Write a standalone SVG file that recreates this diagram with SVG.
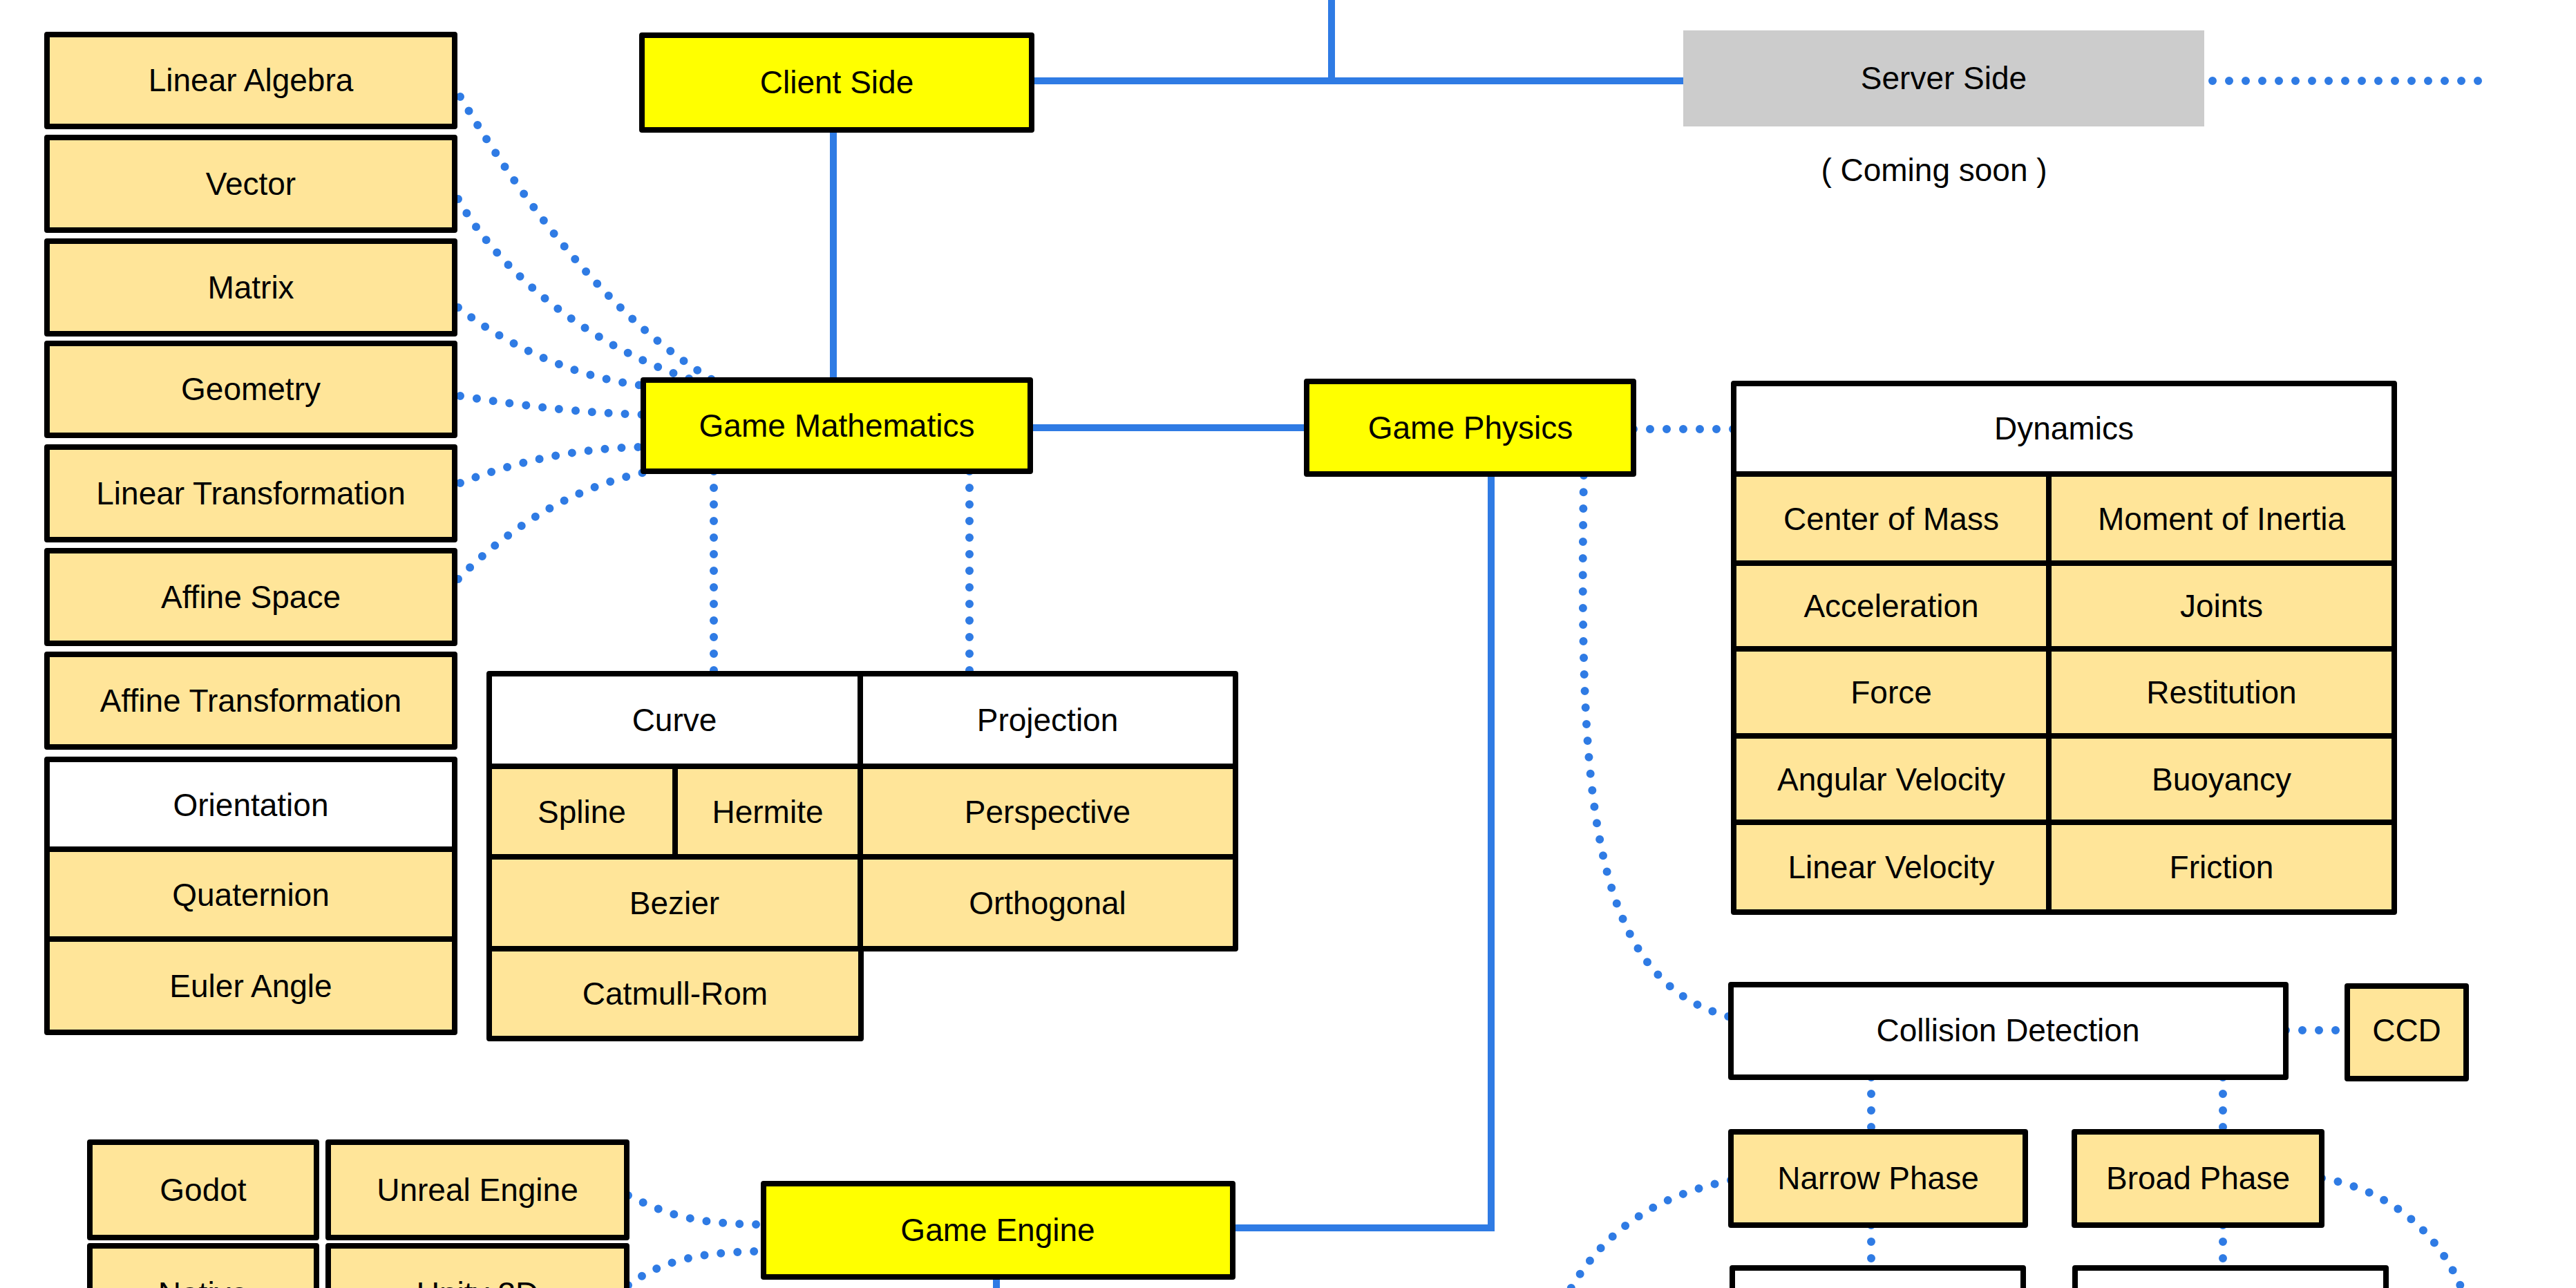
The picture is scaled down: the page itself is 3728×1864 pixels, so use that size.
<svg xmlns="http://www.w3.org/2000/svg" width="3728" height="1864" viewBox="0 0 3728 1864">
<style>
.b{stroke:#000;stroke-width:8;stroke-linejoin:round}
.p{fill:#ffe599}
.y{fill:#ffff00}
.w{fill:#ffffff}
.g{fill:#cccccc;stroke:none}
text{font-family:"Liberation Sans",Arial,sans-serif;font-size:46px;text-anchor:middle;dominant-baseline:central;fill:#000}
.s{fill:none;stroke:#2f7be4;stroke-width:10}
.d{fill:none;stroke:#2f7be4;stroke-width:12;stroke-linecap:round;stroke-dasharray:0 24}
</style>
<rect width="3728" height="1864" fill="#ffffff"/>
<g id="connectors">
<path class="s" d="M1927,0 V117"/>
<path class="s" d="M1493,117 H2436"/>
<path class="s" d="M1206,188 V550"/>
<path class="s" d="M1491,619 H1891"/>
<path class="s" d="M2158,686 V1777 H1784"/>
<path class="s" d="M1442,1848 V1864"/>
<path class="d" d="M3202,117 H3608"/>
<path class="d" d="M666,140 C780,330 900,470 1030,549"/>
<path class="d" d="M663,288 C720,390 850,500 1000,549"/>
<path class="d" d="M663,445 C720,490 820,545 931,558"/>
<path class="d" d="M666,573 C760,588 850,598 931,600"/>
<path class="d" d="M666,699 C740,670 830,648 931,647"/>
<path class="d" d="M663,838 C720,780 810,710 931,684"/>
<path class="d" d="M1033,682 V975"/>
<path class="d" d="M1403,682 V975"/>
<path class="d" d="M2364,621 H2509"/>
<path class="d" d="M2292,688 C2285,1150 2300,1420 2505,1472"/>
<path class="d" d="M3308,1491 H3397"/>
<path class="d" d="M2708,1559 V1638"/>
<path class="d" d="M3217,1559 V1638"/>
<path class="d" d="M2708,1773 V1835"/>
<path class="d" d="M3217,1773 V1835"/>
<path class="d" d="M2505,1708 C2400,1730 2310,1780 2255,1900"/>
<path class="d" d="M3360,1705 C3450,1720 3540,1780 3575,1900"/>
<path class="d" d="M909,1730 C960,1755 1000,1772 1105,1772"/>
<path class="d" d="M909,1860 C950,1830 1000,1811 1105,1811"/>
</g>
<g id="linear-algebra"><rect class="b p" x="68" y="50" width="590" height="133"/><text x="363" y="116">Linear Algebra</text></g>
<g id="vector"><rect class="b p" x="68" y="199" width="590" height="134"/><text x="363" y="266">Vector</text></g>
<g id="matrix"><rect class="b p" x="68" y="349" width="590" height="134"/><text x="363" y="416">Matrix</text></g>
<g id="geometry"><rect class="b p" x="68" y="497" width="590" height="133"/><text x="363" y="563">Geometry</text></g>
<g id="linear-transformation"><rect class="b p" x="68" y="647" width="590" height="134"/><text x="363" y="714">Linear Transformation</text></g>
<g id="affine-space"><rect class="b p" x="68" y="797" width="590" height="134"/><text x="363" y="864">Affine Space</text></g>
<g id="affine-transformation"><rect class="b p" x="68" y="947" width="590" height="134"/><text x="363" y="1014">Affine Transformation</text></g>
<g id="orientation"><rect class="b w" x="68" y="1099" width="590" height="130"/><text x="363" y="1165">Orientation</text></g>
<g id="quaternion"><rect class="b p" x="68" y="1229" width="590" height="130"/><text x="363" y="1295">Quaternion</text></g>
<g id="euler-angle"><rect class="b p" x="68" y="1359" width="590" height="135"/><text x="363" y="1427">Euler Angle</text></g>
<g id="client-side"><rect class="b y" x="929" y="51" width="564" height="137"/><text x="1211" y="119">Client Side</text></g>
<g id="server-side"><rect class="g" x="2436" y="44" width="754" height="139"/><text x="2813" y="113">Server Side</text><text x="2799" y="246">( Coming soon )</text></g>
<g id="game-mathematics"><rect class="b y" x="931" y="550" width="560" height="132"/><text x="1211" y="616">Game Mathematics</text></g>
<g id="game-physics"><rect class="b y" x="1891" y="552" width="473" height="134"/><text x="2128" y="619">Game Physics</text></g>
<g id="curve"><rect class="b w" x="708" y="975" width="537" height="134"/><text x="976" y="1042">Curve</text></g>
<g id="projection"><rect class="b w" x="1245" y="975" width="543" height="134"/><text x="1516" y="1042">Projection</text></g>
<g id="spline"><rect class="b p" x="708" y="1109" width="269" height="131"/><text x="842" y="1175">Spline</text></g>
<g id="hermite"><rect class="b p" x="977" y="1109" width="268" height="131"/><text x="1111" y="1175">Hermite</text></g>
<g id="perspective"><rect class="b p" x="1245" y="1109" width="543" height="131"/><text x="1516" y="1175">Perspective</text></g>
<g id="bezier"><rect class="b p" x="708" y="1240" width="537" height="133"/><text x="976" y="1307">Bezier</text></g>
<g id="orthogonal"><rect class="b p" x="1245" y="1240" width="543" height="133"/><text x="1516" y="1307">Orthogonal</text></g>
<g id="catmull-rom"><rect class="b p" x="708" y="1373" width="538" height="130"/><text x="977" y="1438">Catmull-Rom</text></g>
<g id="dynamics"><rect class="b w" x="2509" y="555" width="956" height="131"/><text x="2987" y="620">Dynamics</text></g>
<g id="center-of-mass"><rect class="b p" x="2509" y="686" width="456" height="129"/><text x="2737" y="751">Center of Mass</text></g>
<g id="moment-of-inertia"><rect class="b p" x="2965" y="686" width="500" height="129"/><text x="3215" y="751">Moment of Inertia</text></g>
<g id="acceleration"><rect class="b p" x="2509" y="815" width="456" height="124"/><text x="2737" y="877">Acceleration</text></g>
<g id="joints"><rect class="b p" x="2965" y="815" width="500" height="124"/><text x="3215" y="877">Joints</text></g>
<g id="force"><rect class="b p" x="2509" y="939" width="456" height="126"/><text x="2737" y="1002">Force</text></g>
<g id="restitution"><rect class="b p" x="2965" y="939" width="500" height="126"/><text x="3215" y="1002">Restitution</text></g>
<g id="angular-velocity"><rect class="b p" x="2509" y="1065" width="456" height="125"/><text x="2737" y="1128">Angular Velocity</text></g>
<g id="buoyancy"><rect class="b p" x="2965" y="1065" width="500" height="125"/><text x="3215" y="1128">Buoyancy</text></g>
<g id="linear-velocity"><rect class="b p" x="2509" y="1190" width="456" height="130"/><text x="2737" y="1255">Linear Velocity</text></g>
<g id="friction"><rect class="b p" x="2965" y="1190" width="500" height="130"/><text x="3215" y="1255">Friction</text></g>
<g id="collision-detection"><rect class="b w" x="2505" y="1425" width="803" height="134"/><text x="2906" y="1491">Collision Detection</text></g>
<g id="ccd"><rect class="b p" x="3397" y="1427" width="172" height="134"/><text x="3483" y="1491">CCD</text></g>
<g id="narrow-phase"><rect class="b p" x="2505" y="1638" width="426" height="135"/><text x="2718" y="1705">Narrow Phase</text></g>
<g id="broad-phase"><rect class="b p" x="3002" y="1638" width="358" height="135"/><text x="3181" y="1705">Broad Phase</text></g>
<g id="narrow-child"><rect class="b w" x="2507" y="1835" width="421" height="120"/></g>
<g id="broad-child"><rect class="b w" x="3003" y="1835" width="450" height="120"/></g>
<g id="godot"><rect class="b p" x="130" y="1653" width="328" height="138"/><text x="294" y="1722">Godot</text></g>
<g id="unreal-engine"><rect class="b p" x="475" y="1653" width="432" height="138"/><text x="691" y="1722">Unreal Engine</text></g>
<g id="native"><rect class="b p" x="130" y="1803" width="328" height="138"/><text x="294" y="1872">Native</text></g>
<g id="unity-3d"><rect class="b p" x="475" y="1803" width="432" height="138"/><text x="691" y="1872">Unity 3D</text></g>
<g id="game-engine"><rect class="b y" x="1105" y="1713" width="679" height="135"/><text x="1444" y="1780">Game Engine</text></g>
</svg>
